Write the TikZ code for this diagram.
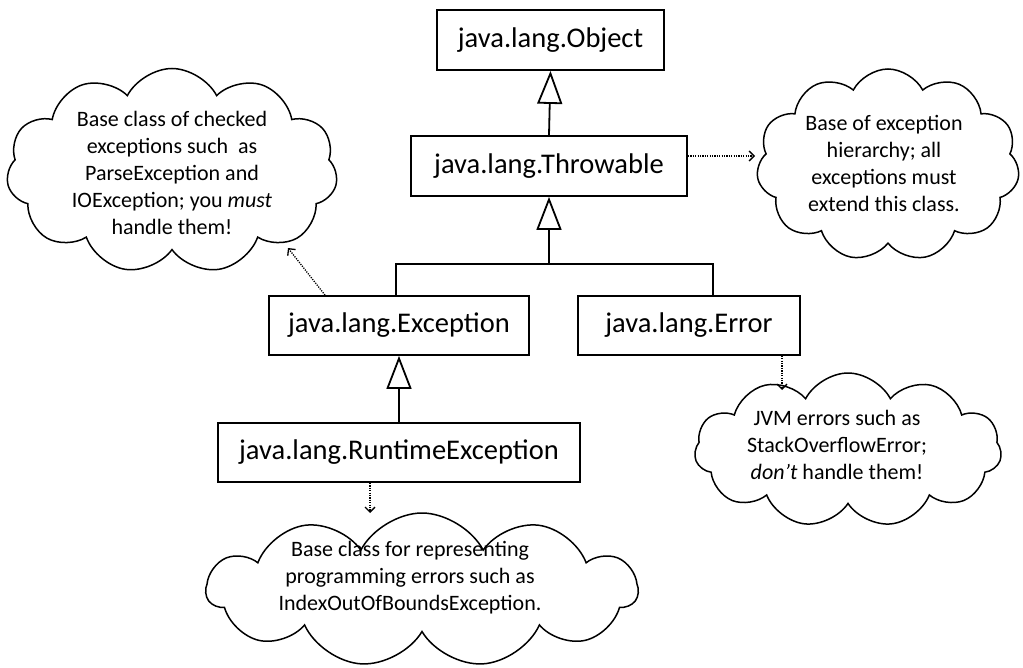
\documentclass[tikz,border=0pt]{standalone}
\usepackage{fontspec}
\setmainfont{Carlito}
\usetikzlibrary{shapes.symbols,arrows.meta}
\begin{document}
\begin{tikzpicture}[x=1pt,y=-1pt,
  cls/.style={draw, line width=1.8pt, inner sep=0pt, font=\fontsize{28.5}{33}\selectfont},
  cloudbox/.style={cloud, draw, line width=1.5pt, cloud puffs=11, cloud puff arc=125, cloud ignores aspect, inner sep=0pt},
  note/.style={align=center, font=\fontsize{22}{27}\selectfont, inner sep=0pt},
  inh/.style={line width=1.8pt, -{Triangle[open, length=33pt, width=25pt, fill=white]}},
  ref/.style={line width=1.3pt, dash pattern=on 1.2pt off 1.2pt, -{Straight Barb[length=5pt, width=10pt]}}]
\useasboundingbox (0,0) rectangle (1023,668);

\node[cls, minimum width=227pt, minimum height=60pt] (obj) at (550.5,40) {java.lang.Object};
\node[cls, minimum width=276pt, minimum height=60pt] (thr) at (549,166) {java.lang.Throwable};
\node[cls, minimum width=260pt, minimum height=59pt] (exc) at (399,325.5) {java.lang.Exception};
\node[cls, minimum width=222pt, minimum height=59pt] (err) at (689,325.5) {java.lang.Error};
\node[cls, minimum width=362pt, minimum height=59pt] (rte) at (399,452.5) {java.lang.RuntimeException};

% clouds
\node[cloudbox, minimum width=331pt, minimum height=205pt] (c1) at (172,171) {};
\node[note] (t1) at (172,173) {Base class of checked\\exceptions such\ \ as\\ParseException and\\IOException; you \textit{must}\\handle them!};
\node[cloudbox, minimum width=263pt, minimum height=192pt] (c2) at (888,165) {};
\node[note] (t2) at (884,163) {Base of exception\\hierarchy; all\\exceptions must\\extend this class.};
\node[cloudbox, minimum width=307pt, minimum height=154pt] (c3) at (848,450) {};
\node[note] (t3) at (837,445) {JVM errors such as\\StackOverflowError;\\\textit{don’t} handle them!};
\node[cloudbox, minimum width=431pt, minimum height=154pt] (c4) at (422,590) {};
\node[note] (t4) at (410,578) {Base class for representing\\programming errors such as\\IndexOutOfBoundsException.};

% inheritance
\coordinate (bus) at (549,264);
\draw[inh] (thr.north) -- (obj.south);
\draw[inh] (bus) -- (thr.south);
\draw[line width=1.8pt] ([xshift=-3pt]exc.north) |- (bus) -| ([xshift=24pt]err.north);
\draw[inh] (rte.north) -- (exc.south);

% notes
\coordinate (e1) at (288,248);
\draw[ref] ([xshift=-74pt]exc.north) -- (e1);
\coordinate (e2) at (755,156);
\draw[ref] (thr.east |- e2) -- (e2);
\coordinate (e3) at (782,390);
\draw[ref] (err.south -| e3) -- (e3);
\coordinate (e4) at (370,513);
\draw[ref] (rte.south -| e4) -- (e4);
\end{tikzpicture}
\end{document}
